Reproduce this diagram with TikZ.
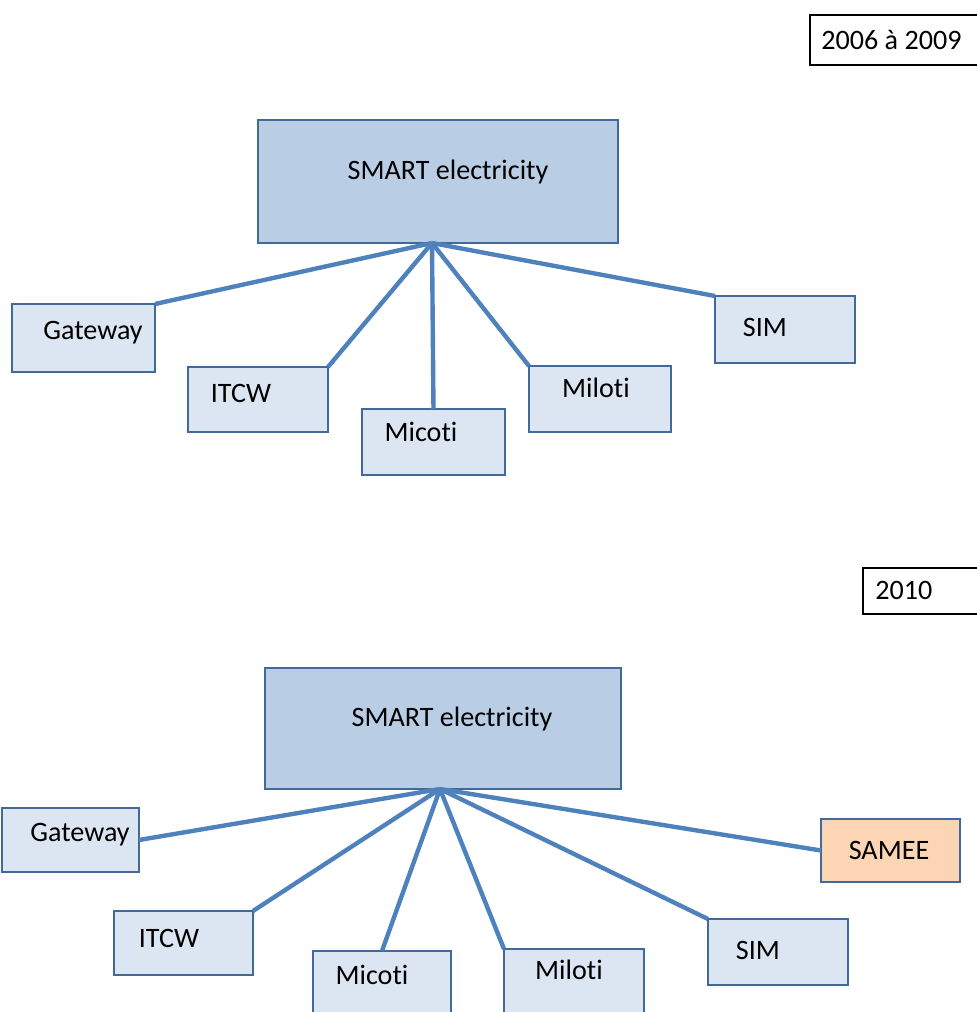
\documentclass[tikz,border=0pt]{standalone}
\usepackage{fontspec}
\setmainfont[Ligatures=NoCommon]{Carlito}
\definecolor{boxfill}{HTML}{DCE6F2}
\definecolor{mainfill}{HTML}{B9CDE5}
\definecolor{boxline}{HTML}{41699A}
\definecolor{linkcol}{HTML}{4F81BD}
\definecolor{orangefill}{HTML}{FCD5B5}
\begin{document}
\begin{tikzpicture}[
  x=0.02cm, y=-0.02cm,
  box/.style={draw=boxline, fill=boxfill, line width=1.2pt, anchor=north west, inner sep=0pt, outer sep=0pt},
  mainbox/.style={box, fill=mainfill},
  datebox/.style={draw=black, fill=white, line width=1.1pt, anchor=north west, inner sep=0pt, outer sep=0pt},
  txt/.style={font=\fontsize{16}{19}\selectfont, inner sep=0pt},
  link/.style={draw=linkcol, line width=2.5pt}
]
  \useasboundingbox (0,0) rectangle (977,1012);
  \clip (0,0) rectangle (977,1012);

  % Période 2006 à 2009
  \node[datebox, minimum width=3.4cm, minimum height=1.0cm] (date1) at (810,15) {};
  \node[mainbox, minimum width=7.2cm, minimum height=2.46cm] (smart1) at (258,120) {};
  \node[box, minimum width=2.86cm, minimum height=1.36cm] (gw1) at (12,304) {};
  \node[box, minimum width=2.8cm, minimum height=1.3cm] (itcw1) at (188,367) {};
  \node[box, minimum width=2.86cm, minimum height=1.32cm] (mic1) at (362,409) {};
  \node[box, minimum width=2.84cm, minimum height=1.32cm] (mil1) at (529,366) {};
  \node[box, minimum width=2.8cm, minimum height=1.34cm] (sim1) at (715,296) {};
  \coordinate (hub1) at (432,243);

  % Liens
  \foreach \n/\a in {gw1/north east, itcw1/north east, mic1/north, mil1/north west, sim1/north west} {
    \draw[link] (hub1) -- (\n.\a);
  }

  % Textes
  \node[txt, anchor=west] (date1-t) at (821,40) {2006 à 2009};
  \node[txt] (smart1-t) at (448,172) {SMART electricity};
  \node[txt] (gw1-t) at (93,333) {Gateway};
  \node[txt] (itcw1-t) at (241,393) {ITCW};
  \node[txt] (mic1-t) at (421,432) {Micoti};
  \node[txt] (mil1-t) at (596,388) {Miloti};
  \node[txt] (sim1-t) at (765,327) {SIM};

  % Période 2010
  \node[datebox, minimum width=2.4cm, minimum height=0.92cm] (date2) at (863,568) {};
  \node[mainbox, minimum width=7.12cm, minimum height=2.42cm] (smart2) at (265,668) {};
  \node[box, minimum width=2.74cm, minimum height=1.28cm] (gw2) at (2,808) {};
  \node[box, minimum width=2.78cm, minimum height=1.28cm] (itcw2) at (114,911) {};
  \node[box, minimum width=2.76cm, minimum height=1.4cm] (mic2) at (313,951) {};
  \node[box, minimum width=2.8cm, minimum height=1.4cm] (mil2) at (504,949) {};
  \node[box, minimum width=2.8cm, minimum height=1.32cm] (sim2) at (708,919) {};
  \node[box, fill=orangefill, minimum width=2.78cm, minimum height=1.26cm] (samee) at (821,819) {};
  \coordinate (hub2) at (440,789);

  % Liens
  \foreach \n/\a in {gw2/east, itcw2/north east, mic2/north, mil2/north west, sim2/north west, samee/west} {
    \draw[link] (hub2) -- (\n.\a);
  }

  % Textes
  \node[txt, anchor=west] (date2-t) at (875,590) {2010};
  \node[txt] (smart2-t) at (452,719) {SMART electricity};
  \node[txt] (gw2-t) at (80,835) {Gateway};
  \node[txt] (itcw2-t) at (169,938) {ITCW};
  \node[txt] (mic2-t) at (372,975) {Micoti};
  \node[txt] (mil2-t) at (569,970) {Miloti};
  \node[txt] (sim2-t) at (758,950) {SIM};
  \node[txt] (samee-t) at (889,850) {SAMEE};
\end{tikzpicture}
\end{document}
